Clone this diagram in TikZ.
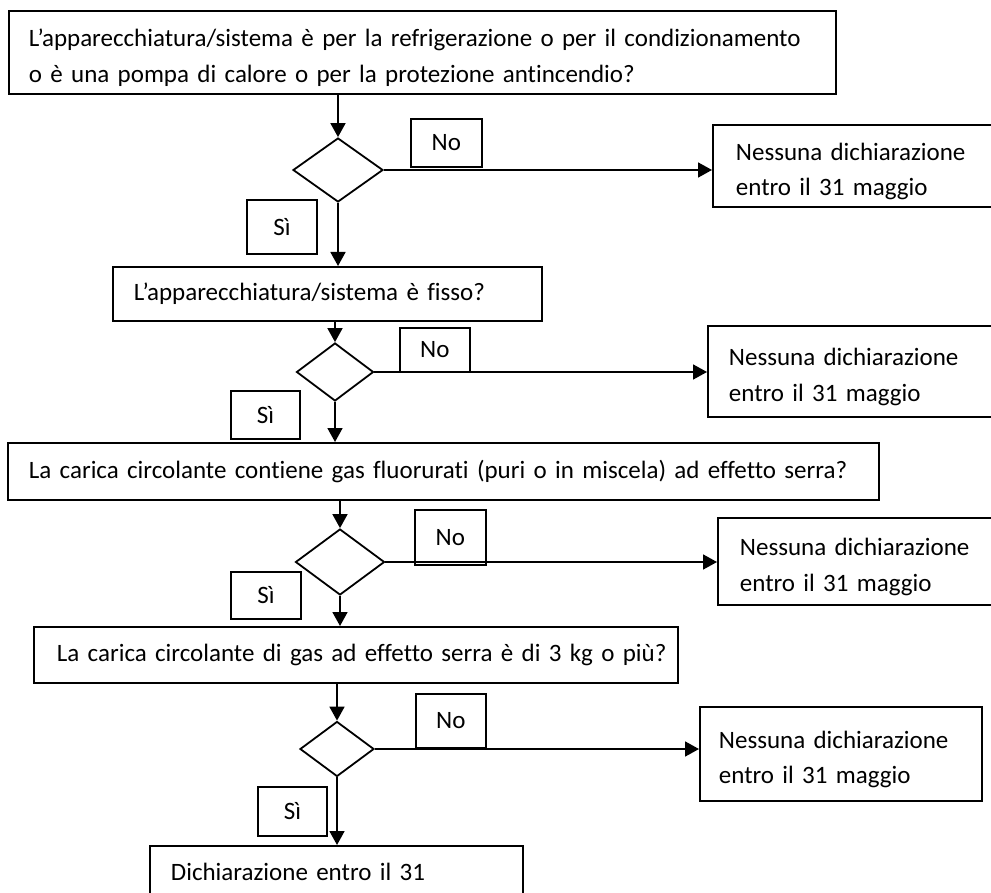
\documentclass[tikz,border=0pt]{standalone}
\usepackage{fontspec}
\setmainfont{Carlito}[Ligatures={NoCommon}]
\usetikzlibrary{arrows.meta,shapes.geometric}
\newcommand\twol[2]{\raisebox{-5pt}[\height][\depth]{\begin{tabular}{@{}l@{}}#1\\#2\end{tabular}}}
\begin{document}
\begin{tikzpicture}[x=1pt,y=-1pt,
  qbox/.style={draw, line width=1.8pt, anchor=north west, align=left, inner ysep=0pt, font=\fontsize{25}{35.5}\selectfont},
  lbl/.style={draw, line width=1.8pt, anchor=north west, inner sep=0pt, font=\fontsize{25}{30}\selectfont},
  dia/.style={draw, diamond, line width=1.8pt, inner sep=0pt},
  arr/.style={line width=1.8pt, -{Triangle[length=14pt,width=15pt]}}]
\useasboundingbox (0,0) rectangle (991,893);
% question boxes
\node[qbox, inner xsep=20pt, text width=787pt, minimum height=83pt] (b1) at (8,10) {\twol{L’apparecchiatura/sistema è per la refrigerazione o per il condizionamento}{o è una pompa di calore o per la protezione antincendio?}};
\node[qbox, inner xsep=21pt, text width=387pt, minimum height=54pt] (b2) at (112,266) {\mbox{L’apparecchiatura/sistema è fisso?}};
\node[qbox, inner xsep=21pt, text width=829pt, minimum height=57pt] (b3) at (7,442) {\mbox{La carica circolante contiene gas fluorurati (puri o in miscela) ad effetto serra?}};
\node[qbox, inner xsep=23pt, text width=598pt, minimum height=56pt] (b4) at (33,626) {\mbox{La carica circolante di gas ad effetto serra è di 3 kg o più?}};
\node[qbox, inner xsep=21pt, text width=331pt, minimum height=52pt] (b5) at (149,845) {\mbox{Dichiarazione entro il 31}};
% outcome boxes
\node[qbox, inner xsep=23pt, text width=242pt, minimum height=82pt] (n1) at (712,124) {\twol{Nessuna dichiarazione}{entro il 31 maggio}};
\node[qbox, inner xsep=21pt, text width=251pt, minimum height=91pt] (n2) at (707,325) {\twol{Nessuna dichiarazione}{entro il 31 maggio}};
\node[qbox, inner xsep=22pt, text width=239pt, minimum height=87pt] (n3) at (717,517) {\twol{Nessuna dichiarazione}{entro il 31 maggio}};
\node[qbox, inner xsep=19pt, text width=244pt, minimum height=94pt] (n4) at (699,706) {\twol{Nessuna dichiarazione}{entro il 31 maggio}};
% diamonds
\node[dia, minimum width=90pt, minimum height=64pt] (d1) at (338,170) {};
\node[dia, minimum width=77pt, minimum height=58pt] (d2) at (335,372) {};
\node[dia, minimum width=89pt, minimum height=66pt] (d3) at (340,562) {};
\node[dia, minimum width=74pt, minimum height=55pt] (d4) at (337,749) {};
% labels
\node[lbl, minimum width=71pt, minimum height=48pt] (no1) at (410,118) {No};
\node[lbl, minimum width=70pt, minimum height=44pt] (no2) at (399,327) {No};
\node[lbl, minimum width=71pt, minimum height=55pt] (no3) at (414,509) {No};
\node[lbl, minimum width=70pt, minimum height=54pt] (no4) at (415,693) {No};
\node[lbl, minimum width=70pt, minimum height=54pt] (si1) at (246,199) {Sì};
\node[lbl, minimum width=69pt, minimum height=48pt] (si2) at (230,390) {Sì};
\node[lbl, minimum width=70pt, minimum height=47pt] (si3) at (230,571) {Sì};
\node[lbl, minimum width=69pt, minimum height=49pt] (si4) at (257,786) {Sì};
% connectors
\draw[arr] (d1.north |- b1.south) -- (d1.north);
\draw[arr] (d1.south) -- (d1.south |- b2.north);
\draw[arr] (d1.east) -- (d1.east -| n1.west);
\draw[arr] (d2.north |- b2.south) -- (d2.north);
\draw[arr] (d2.south) -- (d2.south |- b3.north);
\draw[arr] (d2.east) -- (d2.east -| n2.west);
\draw[arr] (d3.north |- b3.south) -- (d3.north);
\draw[arr] (d3.south) -- (d3.south |- b4.north);
\draw[arr] (d3.east) -- (d3.east -| n3.west);
\draw[arr] (d4.north |- b4.south) -- (d4.north);
\draw[arr] (d4.south) -- (d4.south |- b5.north);
\draw[arr] (d4.east) -- (d4.east -| n4.west);
\end{tikzpicture}
\end{document}
